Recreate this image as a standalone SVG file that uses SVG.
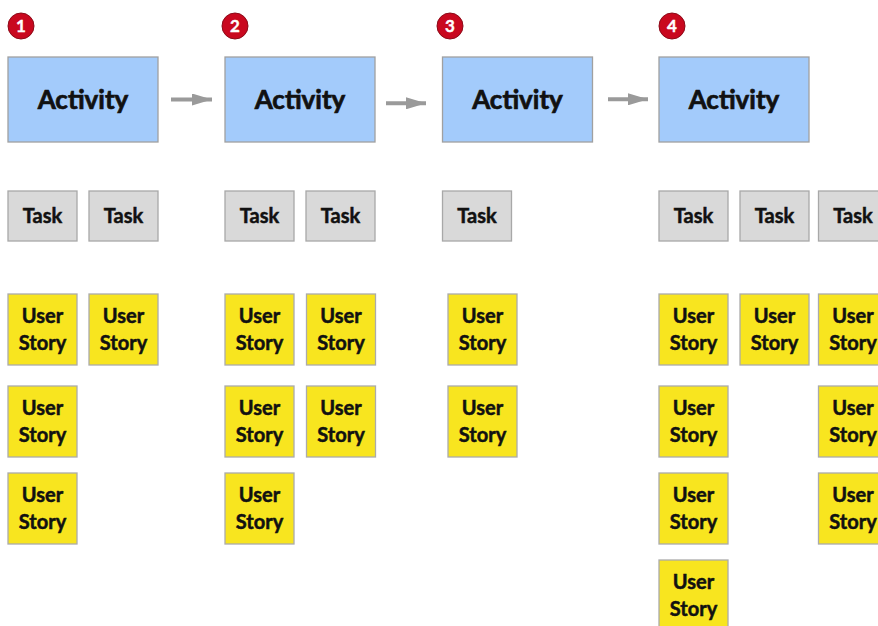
<svg xmlns="http://www.w3.org/2000/svg" width="878" height="626" viewBox="0 0 878 626">
<defs>
<style>
.act rect{fill:#a3cbfb;stroke:#a0a0a0;stroke-width:1.3}
.task rect{fill:#d9d9d9;stroke:#a8a8a8;stroke-width:1.3}
.us rect{fill:#f8e51f;stroke:#ababab;stroke-width:1.3}
text{font-family:Lato,"Open Sans","Liberation Sans",sans-serif;font-weight:bold;fill:#111;stroke:#111;stroke-width:0.5;text-anchor:middle}
.act text{font-size:26px;stroke-width:0.7}
.task text,.us text{font-size:20px}
.num circle{fill:#c9081f;stroke:#8c0a18;stroke-width:1}
.num text{fill:#fff;stroke:#fff;stroke-width:0.4;font-size:17px}
.conn line{stroke:#9a9a9a;stroke-width:4}
</style>
<marker id="ah" viewBox="0 0 10 10" refX="10" refY="5" markerWidth="5" markerHeight="3" markerUnits="strokeWidth" orient="auto" preserveAspectRatio="none">
<path d="M0,0 L10,5 L0,10 Z" fill="#9a9a9a"/>
</marker>
</defs>
<rect width="878" height="626" fill="#fff"/>

<g id="num1" class="num"><circle cx="21" cy="26" r="13"/><text x="21" y="32">1</text></g>
<g id="num2" class="num"><circle cx="235" cy="26" r="13"/><text x="235" y="32">2</text></g>
<g id="num3" class="num"><circle cx="450" cy="26" r="13"/><text x="450" y="32">3</text></g>
<g id="num4" class="num"><circle cx="672" cy="26" r="13"/><text x="672" y="32">4</text></g>

<g id="activity1" class="act"><rect x="8" y="57" width="150" height="85"/><text x="83" y="109">Activity</text></g>
<g id="activity2" class="act"><rect x="225" y="57" width="150" height="85"/><text x="300" y="109">Activity</text></g>
<g id="activity3" class="act"><rect x="442.5" y="57" width="150" height="85"/><text x="517.5" y="109">Activity</text></g>
<g id="activity4" class="act"><rect x="659" y="57" width="150" height="85"/><text x="734" y="109">Activity</text></g>

<g id="connectors" class="conn">
<line x1="171" y1="99.5" x2="212" y2="99.5" marker-end="url(#ah)"/>
<line x1="386" y1="103.3" x2="426" y2="103.3" marker-end="url(#ah)"/>
<line x1="608" y1="99.3" x2="648" y2="99.3" marker-end="url(#ah)"/>
</g>

<g id="task1a" class="task"><rect x="8" y="191" width="69" height="50"/><text x="42.5" y="223">Task</text></g>
<g id="task1b" class="task"><rect x="89" y="191" width="69" height="50"/><text x="123.5" y="223">Task</text></g>
<g id="task2a" class="task"><rect x="225" y="191" width="69" height="50"/><text x="259.5" y="223">Task</text></g>
<g id="task2b" class="task"><rect x="306" y="191" width="69" height="50"/><text x="340.5" y="223">Task</text></g>
<g id="task3a" class="task"><rect x="442.5" y="191" width="69" height="50"/><text x="477" y="223">Task</text></g>
<g id="task4a" class="task"><rect x="659" y="191" width="69" height="50"/><text x="693.5" y="223">Task</text></g>
<g id="task4b" class="task"><rect x="740" y="191" width="69" height="50"/><text x="774.5" y="223">Task</text></g>
<g id="task4c" class="task"><rect x="818.5" y="191" width="69" height="50"/><text x="853" y="223">Task</text></g>

<g id="story1a1" class="us"><rect x="8" y="294" width="69" height="71"/><text x="42.5" y="323">User</text><text x="42.5" y="350">Story</text></g>
<g id="story1b1" class="us"><rect x="89" y="294" width="69" height="71"/><text x="123.5" y="323">User</text><text x="123.5" y="350">Story</text></g>
<g id="story1a2" class="us"><rect x="8" y="386" width="69" height="71"/><text x="42.5" y="415">User</text><text x="42.5" y="442">Story</text></g>
<g id="story1a3" class="us"><rect x="8" y="473" width="69" height="71"/><text x="42.5" y="502">User</text><text x="42.5" y="529">Story</text></g>

<g id="story2a1" class="us"><rect x="225" y="294" width="69" height="71"/><text x="259.5" y="323">User</text><text x="259.5" y="350">Story</text></g>
<g id="story2b1" class="us"><rect x="306.5" y="294" width="69" height="71"/><text x="341" y="323">User</text><text x="341" y="350">Story</text></g>
<g id="story2a2" class="us"><rect x="225" y="386" width="69" height="71"/><text x="259.5" y="415">User</text><text x="259.5" y="442">Story</text></g>
<g id="story2b2" class="us"><rect x="306.5" y="386" width="69" height="71"/><text x="341" y="415">User</text><text x="341" y="442">Story</text></g>
<g id="story2a3" class="us"><rect x="225" y="473" width="69" height="71"/><text x="259.5" y="502">User</text><text x="259.5" y="529">Story</text></g>

<g id="story3a1" class="us"><rect x="448" y="294" width="69" height="71"/><text x="482.5" y="323">User</text><text x="482.5" y="350">Story</text></g>
<g id="story3a2" class="us"><rect x="448" y="386" width="69" height="71"/><text x="482.5" y="415">User</text><text x="482.5" y="442">Story</text></g>

<g id="story4a1" class="us"><rect x="659" y="294" width="69" height="71"/><text x="693.5" y="323">User</text><text x="693.5" y="350">Story</text></g>
<g id="story4b1" class="us"><rect x="740" y="294" width="69" height="71"/><text x="774.5" y="323">User</text><text x="774.5" y="350">Story</text></g>
<g id="story4c1" class="us"><rect x="818.5" y="294" width="69" height="71"/><text x="853" y="323">User</text><text x="853" y="350">Story</text></g>
<g id="story4a2" class="us"><rect x="659" y="386" width="69" height="71"/><text x="693.5" y="415">User</text><text x="693.5" y="442">Story</text></g>
<g id="story4c2" class="us"><rect x="818.5" y="386" width="69" height="71"/><text x="853" y="415">User</text><text x="853" y="442">Story</text></g>
<g id="story4a3" class="us"><rect x="659" y="473" width="69" height="71"/><text x="693.5" y="502">User</text><text x="693.5" y="529">Story</text></g>
<g id="story4c3" class="us"><rect x="818.5" y="473" width="69" height="71"/><text x="853" y="502">User</text><text x="853" y="529">Story</text></g>
<g id="story4a4" class="us"><rect x="659" y="560" width="69" height="71"/><text x="693.5" y="589">User</text><text x="693.5" y="616">Story</text></g>
</svg>
